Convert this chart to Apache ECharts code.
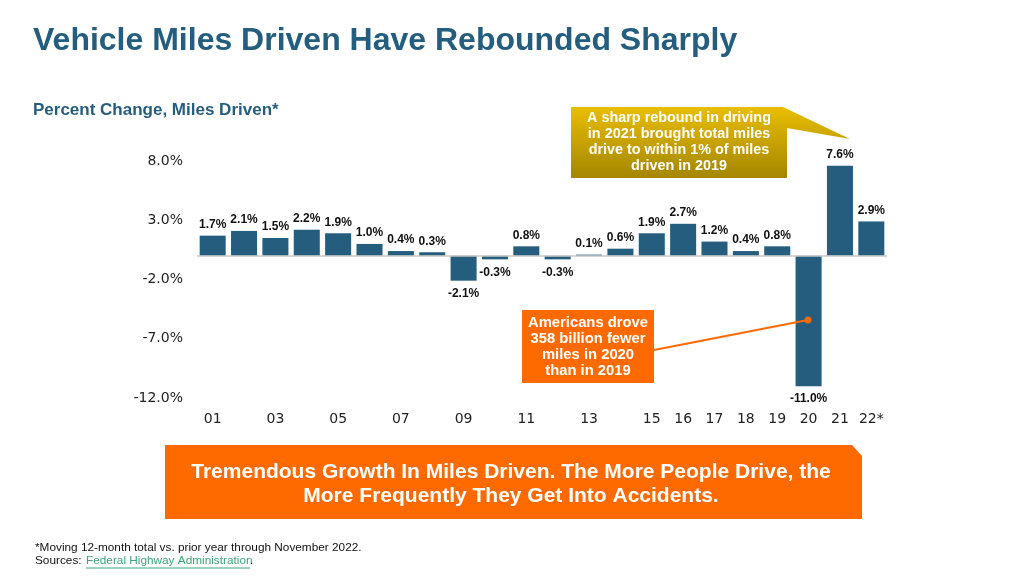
<!DOCTYPE html>
<html>
<head>
<meta charset="utf-8">
<title>Vehicle Miles Driven Have Rebounded Sharply</title>
<script src="https://cdn.jsdelivr.net/npm/echarts@6/dist/echarts.min.js"></script>
<style>
  html, body { margin: 0; padding: 0; background: #fff; }
  #main { width: 1024px; height: 576px; }
</style>
</head>
<body>
<div id="main"></div>
<script>
// years 2001 - 2022 (2022 = moving 12-month through Nov)
var years = ['01', '02', '03', '04', '05', '06', '07', '08', '09', '10', '11',
  '12', '13', '14', '15', '16', '17', '18', '19', '20', '21', '22*'];
// only some years get a tick label
var tickLabels = ['01', '', '03', '', '05', '', '07', '', '09', '', '11',
  '', '13', '', '15', '16', '17', '18', '19', '20', '21', '22*'];
// percent change in miles driven
var pctChange = [1.7, 2.1, 1.5, 2.2, 1.9, 1.0, 0.4, 0.3, -2.1, -0.3, 0.8,
  -0.3, 0.1, 0.6, 1.9, 2.7, 1.2, 0.4, 0.8, -11.0, 7.6, 2.9];

var blue = '#245d7e';
var orange = '#ff6a00';
var textFont = '"Liberation Sans", Arial, sans-serif';

var myChart = echarts.init(document.getElementById('main'));

var barData = pctChange.map(function (v) {
  return {
    value: v,
    label: { position: v < 0 ? 'bottom' : 'top', distance: v < 0 ? 7 : 5 }
  };
});

var option = {
  backgroundColor: '#fff',
  animation: false,
  grid: { left: 197, right: 137, top: 161, bottom: 178 },
  xAxis: {
    type: 'category',
    data: years,
    axisLine: { show: false },
    axisTick: { show: false },
    axisLabel: {
      interval: 0,
      margin: 14,
      color: '#222',
      fontFamily: '"DejaVu Sans", Verdana, sans-serif',
      fontSize: 14,
      formatter: function (val, idx) { return tickLabels[idx]; }
    }
  },
  yAxis: {
    type: 'value',
    min: -12,
    max: 8,
    interval: 5,
    axisLine: { show: false },
    axisTick: { show: false },
    splitLine: { show: false },
    axisLabel: {
      margin: 14,
      color: '#222',
      fontFamily: '"DejaVu Sans", Verdana, sans-serif',
      fontSize: 14,
      formatter: function (v) { return v.toFixed(1) + '%'; }
    }
  },
  series: [{
    type: 'bar',
    data: barData,
    barCategoryGap: '17%',
    itemStyle: { color: blue },
    label: {
      show: true,
      color: '#111',
      fontFamily: textFont,
      fontWeight: 'bold',
      fontSize: 12,
      formatter: function (p) { return p.value.toFixed(1) + '%'; }
    },
    markLine: {
      silent: true,
      symbol: 'none',
      label: { show: false },
      lineStyle: { color: '#c8c8c8', width: 1.5, type: 'solid' },
      data: [{ yAxis: 0 }]
    }
  }],
  graphic: [
    {
      type: 'text', left: 33, top: 25, z: 10,
      style: {
        text: 'Vehicle Miles Driven Have Rebounded Sharply',
        fill: blue, font: 'bold 32px ' + textFont
      }
    },
    {
      type: 'text', left: 33, top: 102, z: 10,
      style: {
        text: 'Percent Change, Miles Driven*',
        fill: blue, font: 'bold 17px ' + textFont
      }
    },
    // gold callout with pointer to the 2021 bar
    {
      type: 'polygon', z: 10,
      shape: { points: [[571, 107], [783, 107], [850, 139], [787, 128], [787, 178], [571, 178]] },
      style: {
        fill: new echarts.graphic.LinearGradient(0, 0, 0, 1, [
          { offset: 0, color: '#e9bd00' },
          { offset: 1, color: '#a48600' }
        ])
      }
    },
    {
      type: 'text', x: 679, y: 142, z: 11,
      style: {
        text: 'A sharp rebound in driving\nin 2021 brought total miles\ndrive to within 1% of miles\ndriven in 2019',
        fill: '#fff', font: 'bold 14.4px ' + textFont, lineHeight: 16,
        align: 'center', verticalAlign: 'middle'
      }
    },
    // orange callout for 2020
    {
      type: 'rect', z: 10,
      shape: { x: 522, y: 310, width: 132, height: 73 },
      style: { fill: orange }
    },
    {
      type: 'text', x: 588, y: 347, z: 11,
      style: {
        text: 'Americans drove\n358 billion fewer\nmiles in 2020\nthan in 2019',
        fill: '#fff', font: 'bold 14.8px ' + textFont, lineHeight: 16,
        align: 'center', verticalAlign: 'middle'
      }
    },
    {
      type: 'line', z: 10,
      shape: { x1: 654, y1: 350, x2: 808, y2: 320 },
      style: { stroke: orange, lineWidth: 2 }
    },
    {
      type: 'circle', z: 10,
      shape: { cx: 808, cy: 320, r: 3.5 },
      style: { fill: orange }
    },
    // bottom banner
    {
      type: 'polygon', z: 10,
      shape: { points: [[165, 445], [852, 445], [862, 456], [862, 519], [165, 519]] },
      style: { fill: orange }
    },
    {
      type: 'text', x: 511, y: 484, z: 11,
      style: {
        text: 'Tremendous Growth In Miles Driven. The More People Drive, the\nMore Frequently They Get Into Accidents.',
        fill: '#fff', font: 'bold 21px ' + textFont, lineHeight: 24,
        align: 'center', verticalAlign: 'middle'
      }
    },
    // footnote
    {
      type: 'text', left: 35, top: 542, z: 10,
      style: {
        text: '*Moving 12-month total vs. prior year through November 2022.',
        fill: '#111', font: '11.8px ' + textFont
      }
    },
    {
      type: 'text', left: 35, top: 555, z: 10,
      style: { text: 'Sources:', fill: '#111', font: '11.8px ' + textFont }
    },
    {
      type: 'text', left: 86, top: 555, z: 10,
      style: { text: 'Federal Highway Administration', fill: '#3aa57a', font: '11.8px ' + textFont }
    },
    {
      type: 'line', z: 10,
      shape: { x1: 86, y1: 568, x2: 250, y2: 568 },
      style: { stroke: '#3aa57a', lineWidth: 1 }
    },
    {
      type: 'text', left: 250, top: 555, z: 10,
      style: { text: '.', fill: '#111', font: '11.8px ' + textFont }
    }
  ]
};

myChart.setOption(option);
</script>
</body>
</html>
